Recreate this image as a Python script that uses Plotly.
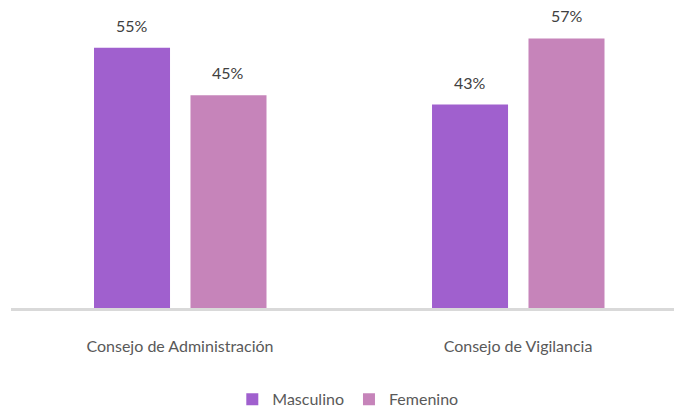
import plotly.graph_objects as go

categories = ["Consejo de Administración", "Consejo de Vigilancia"]
series_names = ["Masculino", "Femenino"]
masculino = [55, 43]
femenino = [45, 57]
colors = ["#A060CE", "#C684BA"]

bar_width = 0.2249
offsets = [-0.2544, 0.031]

fig = go.Figure()
annotations = []
for name, vals, col, off in zip(series_names, [masculino, femenino], colors, offsets):
    fig.add_trace(go.Bar(
        name=name, x=categories, y=vals, marker_color=col,
        width=bar_width, offset=off, marker_line_width=0,
    ))
    for i, v in enumerate(vals):
        annotations.append(dict(
            x=i + off + bar_width / 2, y=v, xref="x", yref="y",
            text=f"{v}%", showarrow=False, yanchor="bottom", yshift=11,
            font=dict(size=16, color="#404040"),
        ))

fig.update_layout(
    width=674, height=411,
    margin=dict(l=11, r=0, t=5, b=103, autoexpand=False),
    plot_bgcolor="white", paper_bgcolor="white",
    font=dict(family="Lato, Open Sans, sans-serif", size=16, color="#595959"),
    barmode="overlay",
    showlegend=True,
    legend=dict(orientation="h", x=0.508, xanchor="center", y=-0.245, yanchor="top",
                font=dict(size=16, color="#595959"), itemwidth=30,
                traceorder="normal", bgcolor="rgba(0,0,0,0)"),
    annotations=annotations,
)
fig.update_xaxes(
    type="category", range=[-0.5, 1.4615], automargin=False,
    showline=True, linecolor="#D9D9D9", linewidth=3,
    ticks="outside", ticklen=22, tickcolor="rgba(0,0,0,0)",
    tickfont=dict(size=16, color="#595959"),
    showgrid=False,
)
fig.update_yaxes(range=[0, 64.06], visible=False, showgrid=False, zeroline=False)

fig.write_html("out.html", config={"displayModeBar": False},
               post_script="document.body.style.margin='0';")
